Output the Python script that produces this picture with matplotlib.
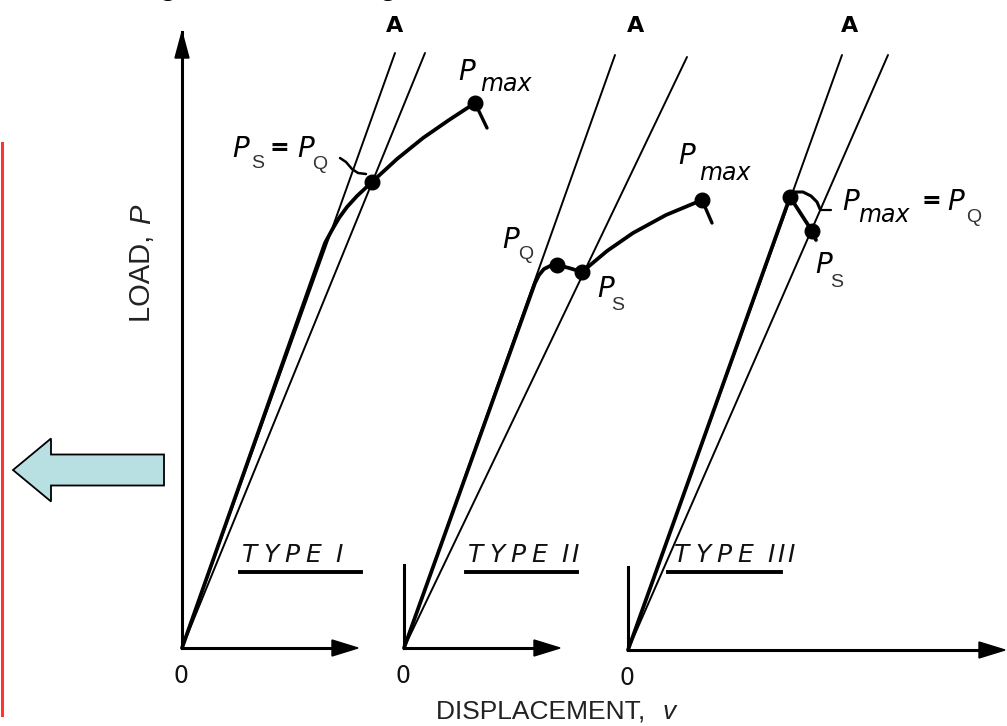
import numpy as np
import matplotlib
matplotlib.use("Agg")
import matplotlib.pyplot as plt
from matplotlib.patches import FancyArrow, Polygon

# ---- schematic load-displacement records, in panel units (v right, P up) ----
panel_names = ["TYPE I", "TYPE II", "TYPE III"]
origin_x = [182, 404, 628]
origin_y = [648, 648, 650]
load_axis_len = [616, 83, 83]
disp_axis_len = [176, 156, 377]

# initial-slope line and 95% secant line (end points)
tangent_v = [213, 211, 214]
tangent_p = [595, 593, 595]
secant_v = [243, 283, 260]
secant_p = [595, 591, 595]

# test records
curve1_v = [0, 143, 150, 157, 165, 175, 190, 215, 241, 267, 293]
curve1_p = [0, 405, 418, 430, 441, 452, 466, 489, 510, 528, 545]
curve2_v = [0, 131, 135, 140, 146, 153, 165, 178, 203, 229, 262, 298]
curve2_p = [0, 365, 373, 379, 382, 383, 380, 376, 397, 415, 433, 448]
curve3_v = [0, 162, 184, 188]
curve3_p = [0, 453, 419, 410]

# fracture drop after the last maximum
tail1_v, tail1_p = [293, 305], [545, 520]
tail2_v, tail2_p = [298, 308], [448, 425]

# marked points
dots1_v, dots1_p = [190, 293], [466, 545]
dots2_v, dots2_p = [153, 178, 298], [383, 376, 448]
dots3_v, dots3_p = [162, 184], [453, 419]

# leader lines to labels
lead1_v, lead1_p = [158, 164, 170, 176, 184], [490, 486, 479, 475, 474]
lead3_v, lead3_p = [165, 175, 183, 189, 192], [458, 458, 454, 448, 441]
tick3_v, tick3_p = [192, 203], [440, 440]

curves = [(curve1_v, curve1_p), (curve2_v, curve2_p), (curve3_v, curve3_p)]
dots = [(dots1_v, dots1_p), (dots2_v, dots2_p), (dots3_v, dots3_p)]

fig = plt.figure(figsize=(10.07, 7.26), dpi=100)
ax = fig.add_axes([0, 0, 1, 1])
ax.set_xlim(0, 1007)
ax.set_ylim(726, 0)
ax.axis("off")


def to_xy(i, v, p):
    return origin_x[i] + np.asarray(v, float), origin_y[i] - np.asarray(p, float)


def line(i, v, p, lw, **kw):
    x, y = to_xy(i, v, p)
    ax.plot(x, y, color="black", lw=lw, solid_capstyle="round",
            solid_joinstyle="round", **kw)


for i in range(3):
    ox, oy = origin_x[i], origin_y[i]
    # axes with arrow heads
    ax.plot([ox, ox], [oy, oy - load_axis_len[i]], color="black", lw=2.2)
    ax.plot([ox, ox + disp_axis_len[i] - 20], [oy, oy], color="black", lw=2.2)
    xa = ox + disp_axis_len[i]
    ax.add_patch(Polygon([[xa, oy], [xa - 26, oy - 8], [xa - 26, oy + 8]],
                         closed=True, color="black"))
    if i == 0:
        ya = oy - load_axis_len[i]
        ax.add_patch(Polygon([[ox, ya], [ox - 7, ya + 26], [ox + 7, ya + 26]],
                             closed=True, color="black"))
    ax.text(ox - 1, oy + 28, "0", ha="center", va="center", fontsize=17,
            color="#111111")

    line(i, [0, tangent_v[i]], [0, tangent_p[i]], 1.4)
    line(i, [0, secant_v[i]], [0, secant_p[i]], 1.4)
    line(i, curves[i][0], curves[i][1], 2.7)
    x, y = to_xy(i, *dots[i])
    ax.plot(x, y, "o", color="black", ms=10.5)

    # A label above the offset lines
    ta, _ = to_xy(i, [(tangent_v[i] + secant_v[i]) / 2 - 15], [0])
    ax.text(ta[0], 32, "A", ha="center", va="baseline", fontsize=16,
            fontweight="bold")

line(0, tail1_v, tail1_p, 2.4)
line(1, tail2_v, tail2_p, 2.4)
line(0, lead1_v, lead1_p, 1.8)
line(2, lead3_v, lead3_p, 2.2)
line(2, tick3_v, tick3_p, 1.6)

# panel type captions, letter spaced and underlined
type_x = [242, 468, 674]
type_line = [(240, 361), (466, 577), (668, 781)]
for name, x0, (u0, u1) in zip(panel_names, type_x, type_line):
    x = x0
    for ch in name:
        if ch == " ":
            x += 9
            continue
        ax.text(x, 562, ch, fontsize=18, style="oblique", ha="left",
                va="baseline", color="#111111")
        x += 21 if ch != "I" else 10
    ax.plot([u0, u1], [572, 572], color="black", lw=2.8)

# point labels: big slanted P with subscripts
def big_p(x, y):
    ax.text(x, y, "P", fontsize=20, style="oblique", ha="left",
            va="baseline")


def sub(x, y, s, size=14):
    ax.text(x, y, s, fontsize=size, ha="left", va="baseline",
            family="Liberation Sans", color="#333333")


def max_sub(x, y):
    ax.text(x, y, "max", fontsize=17, style="oblique", ha="left",
            va="baseline")


big_p(232, 157); sub(251, 168, "S")
ax.text(270, 155, "=", fontsize=17, fontweight="bold", va="baseline")
big_p(297, 157); sub(312, 169, "Q")
big_p(458, 80); max_sub(480, 91)

big_p(502, 248); sub(518, 259, "Q")
big_p(597, 297); sub(611, 310, "S")
big_p(678, 164); max_sub(699, 180)

big_p(842, 210); max_sub(858, 222)
ax.text(922, 208, "=", fontsize=17, fontweight="bold", va="baseline")
big_p(947, 210); sub(966, 222, "Q")
big_p(815, 273); sub(830, 287, "S")

# axis titles
ax.text(142, 274, "LOAD, ", rotation=90, ha="center", va="center",
        fontsize=21, family="Liberation Sans", color="#222222")
ax.text(142, 214, "P", rotation=90, ha="center", va="center",
        fontsize=21, family="Liberation Sans", style="italic", color="#222222")
ax.text(436, 712, "DISPLACEMENT, ", ha="left", va="center", fontsize=19,
        family="Liberation Sans", color="#222222")
ax.text(669, 712, "v", ha="center", va="center", fontsize=19,
        family="Liberation Sans", style="italic", color="#222222")

# heading descenders cut at the top edge
ax.text(168, -6, "g", fontsize=24, ha="center", va="baseline",
        family="Liberation Sans")
ax.text(388, -6, "g", fontsize=24, ha="center", va="baseline",
        family="Liberation Sans")

# red margin rule and pointer arrow
ax.plot([2, 2], [143, 715], color="#ff3333", lw=2.2)
ax.add_patch(FancyArrow(164, 470, -151, 0, width=31, head_width=63,
                        head_length=38, length_includes_head=True,
                        fc="#b8dfe2", ec="black", lw=1.3))

fig.savefig("out.png", dpi=100)
